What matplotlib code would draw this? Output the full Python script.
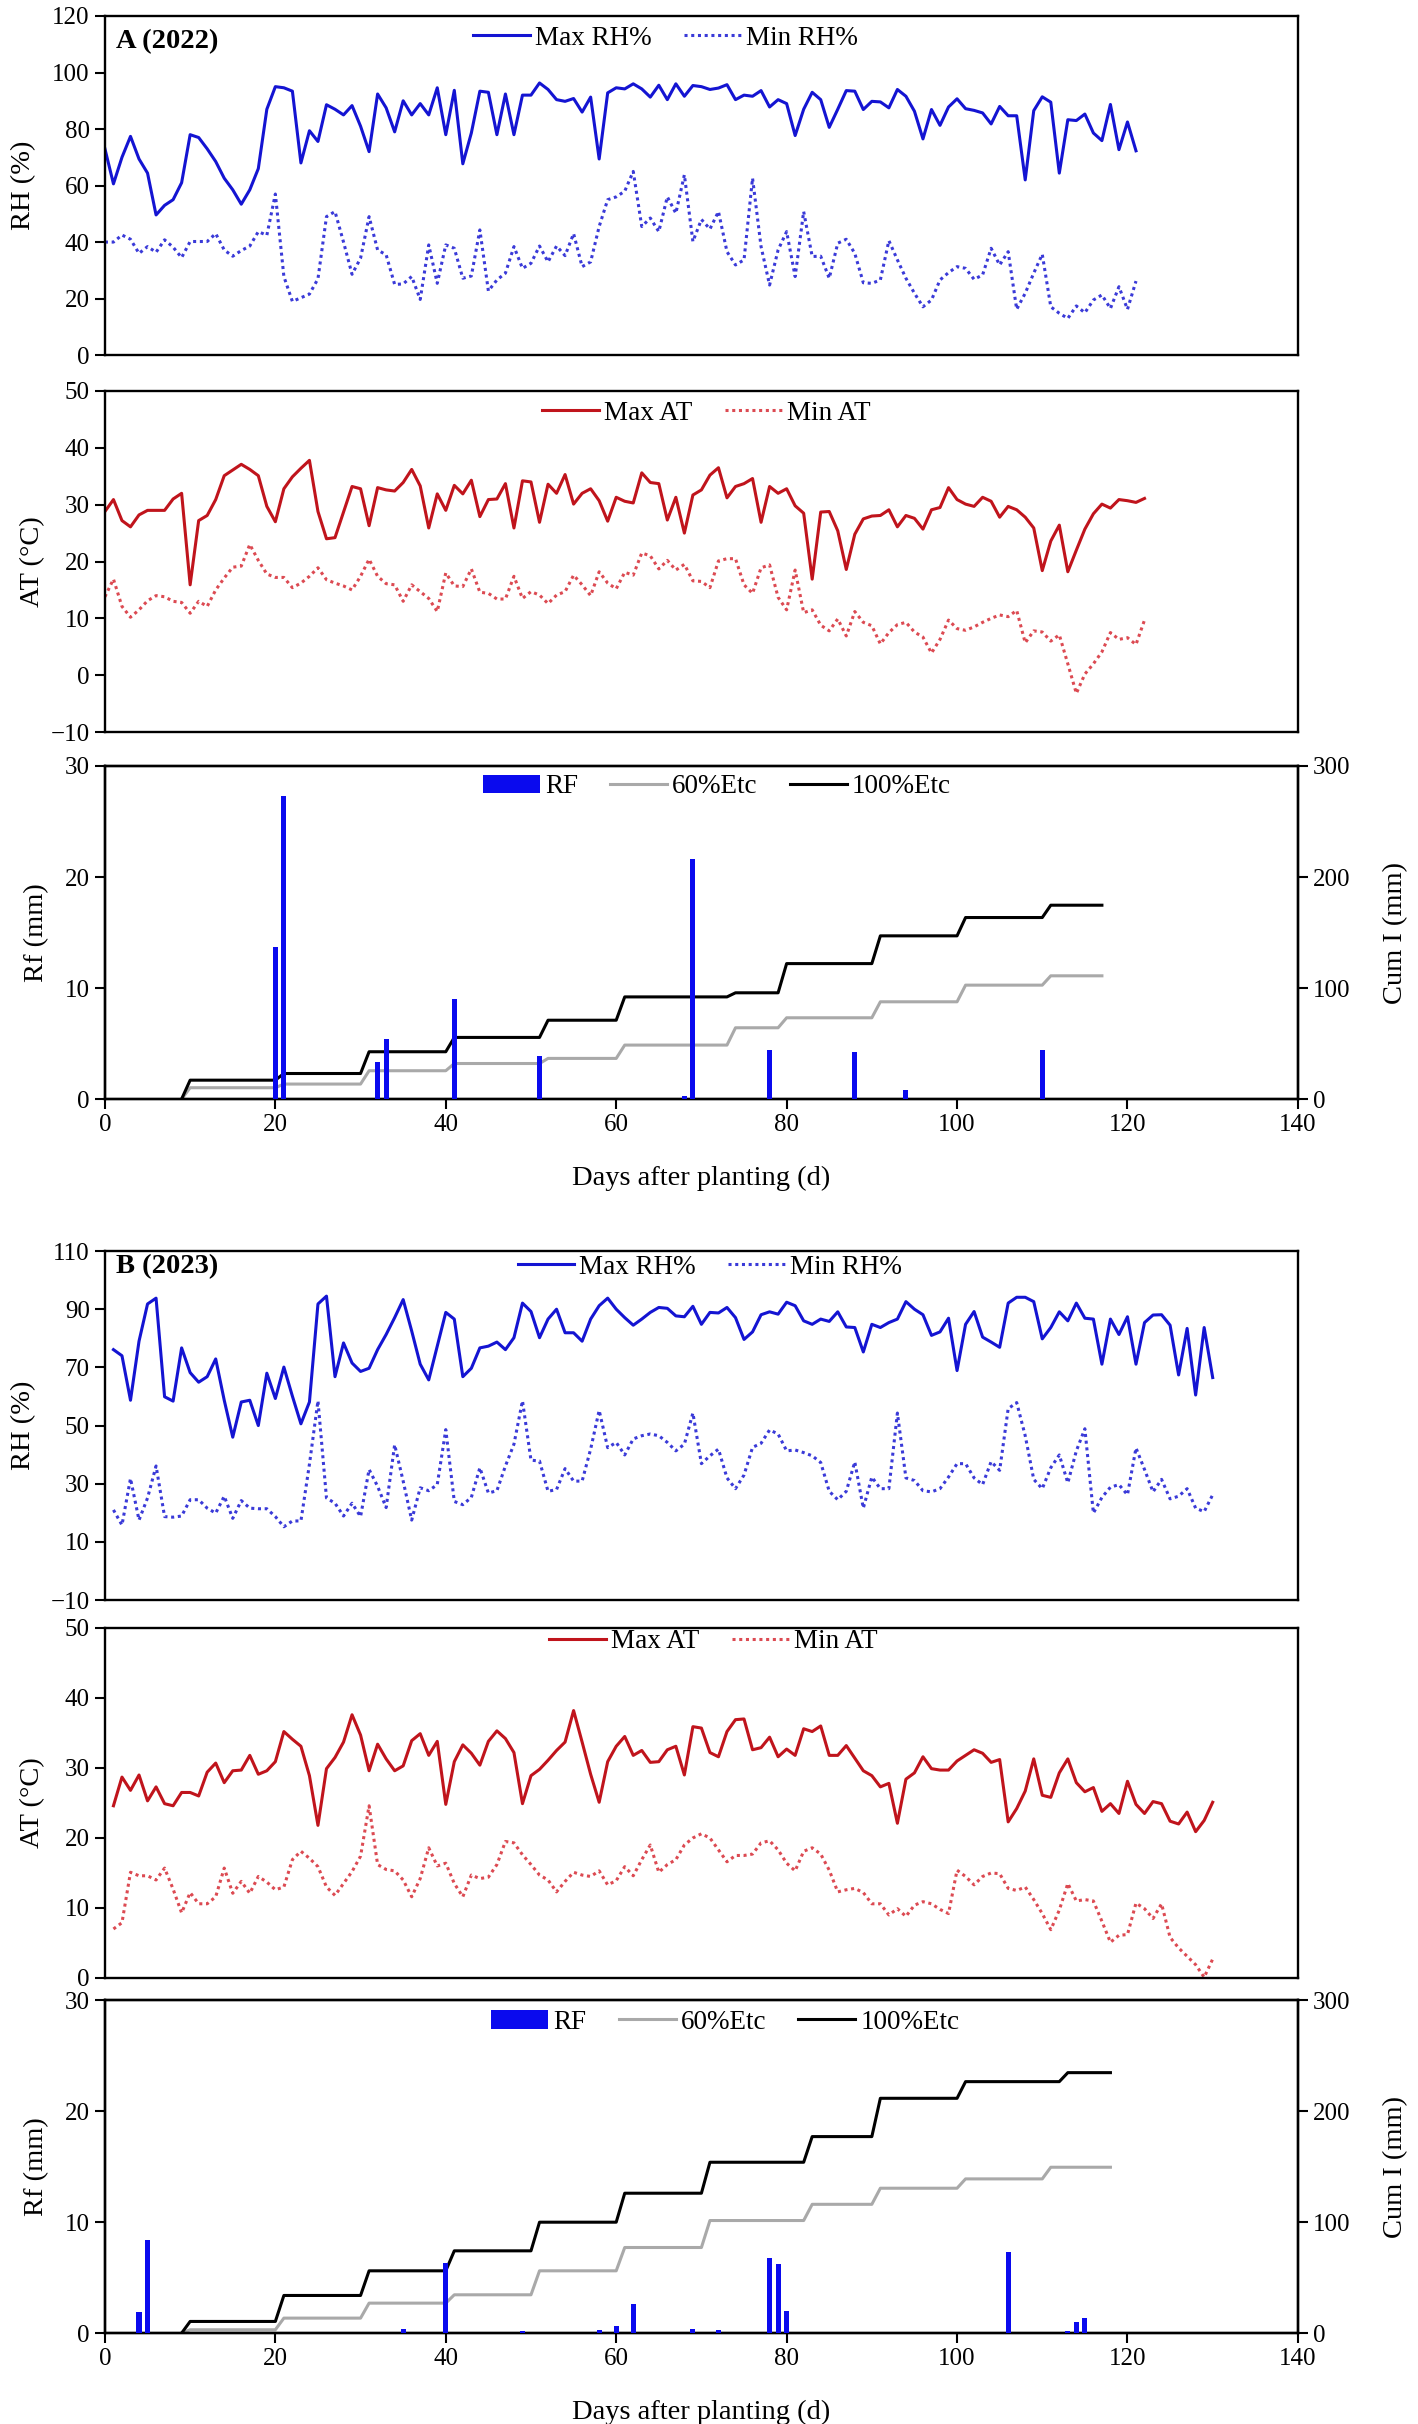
import numpy as np
import matplotlib
matplotlib.use('Agg')
import matplotlib.pyplot as plt

plt.rcParams['font.family'] = ['Liberation Serif', 'DejaVu Serif']

# ---------------- 2022 (A) ----------------
max_rh_A = [73, 60.6, 70, 77.4, 69.4, 64.4, 49.6, 53, 55, 61,
            78, 77, 73, 68.5, 62.6, 58.5, 53.4, 58.5, 66, 87,
            95, 94.6, 93.4, 68, 79.4, 75.6, 88.6, 87, 85, 88.3,
            81, 72, 92.4, 87.5, 79, 90, 85, 89, 85, 94.6,
            78, 93.7, 67.7, 78.6, 93.4, 93, 78, 92.4, 78, 92,
            92, 96.3, 94, 90.4, 89.8, 90.8, 86, 91.3, 69.4, 92.8,
            94.6, 94.2, 96, 94.2, 91.3, 95.5, 90.4, 96, 91.6, 95.4,
            95, 94, 94.5, 95.7, 90.4, 92, 91.6, 93.6, 87.8, 90.4,
            89, 77.7, 87, 93, 90.4, 80.6, 87, 93.6, 93.4, 86.9,
            89.8, 89.6, 87.5, 94, 91.6, 86.3, 76.5, 86.9, 81.3, 87.8,
            90.7, 87.2, 86.6, 85.7, 81.8, 88, 84.7, 84.7, 62, 86.5,
            91.4, 89.5, 64.4, 83.3, 83, 85.3, 78.6, 75.9, 88.7, 72.7,
            82.5, 72.3]
min_rh_A = [40, 40, 42.5, 41, 36, 38.4, 36.4, 40.8, 38.2, 34.5,
            40.2, 40.2, 40.2, 43, 37.2, 35, 37, 38.6, 43.7, 42.4,
            57, 27.8, 19, 20.3, 21.6, 27, 49, 50.8, 40, 28.6,
            34.3, 49, 37.2, 35.5, 25, 25.2, 27.8, 19.7, 39, 25.4,
            39, 37.8, 27.2, 28, 44.3, 22.7, 26.6, 29, 38.4, 30.7,
            32.5, 38.6, 33, 38.6, 35.2, 43, 31.3, 33, 45.5, 55,
            56, 58, 65, 45.5, 48.5, 43.7, 56, 50.2, 63.8, 40.2,
            48, 44.6, 50.8, 36.6, 31.9, 33.7, 62.6, 38.4, 24.8, 37.2,
            43.7, 27.8, 50.8, 34.9, 35, 27.2, 39.6, 41, 36, 25.6,
            25.4, 26.6, 40.5, 33.7, 27.2, 21.9, 17.1, 19.5, 26.6, 29.2,
            31.3, 30.7, 26.8, 28.4, 37.8, 31.9, 36.6, 16.2, 21.9, 29,
            35.7, 17.1, 14.8, 13, 17.4, 15, 19.5, 21.3, 16.5, 24.2,
            16.2, 26.2]
max_at_A = [28.8, 30.9, 27.2, 26.1, 28.2, 29, 29, 29, 31, 32,
            15.9, 27.2, 28.1, 30.9, 35.1, 36.1, 37.1, 36.2, 35.1, 29.7,
            27, 32.8, 34.9, 36.4, 37.8, 28.8, 24, 24.2, 28.7, 33.2,
            32.8, 26.3, 33, 32.6, 32.4, 33.9, 36.2, 33.3, 25.9, 31.9,
            29, 33.4, 31.9, 34.3, 27.9, 30.9, 31, 33.7, 25.9, 34.2,
            34, 26.9, 33.6, 32, 35.3, 30.1, 32, 32.8, 30.7, 27.1,
            31.3, 30.6, 30.3, 35.6, 33.9, 33.7, 27.3, 31.3, 25, 31.7,
            32.6, 35.2, 36.5, 31.2, 33.2, 33.7, 34.6, 26.9, 33.2, 32,
            32.8, 29.8, 28.5, 16.9, 28.7, 28.8, 25.4, 18.6, 24.8, 27.5,
            28, 28.1, 29.1, 26.1, 28.1, 27.6, 25.7, 29.1, 29.5, 33,
            30.9, 30.1, 29.7, 31.3, 30.6, 27.8, 29.7, 29.1, 27.8, 25.9,
            18.4, 23.6, 26.4, 18.2, 22, 25.7, 28.4, 30.1, 29.4, 30.9,
            30.7, 30.4, 31.1]
min_at_A = [13.8, 16.9, 12.1, 10.2, 11.5, 13.1, 14, 13.8, 13, 12.8,
            10.9, 13, 12.1, 15, 17.1, 19, 19.2, 23, 20.2, 17.8,
            17.2, 17.2, 15.4, 16.2, 17.4, 18.9, 16.8, 16.2, 15.7, 15,
            17.4, 20.4, 17.4, 16.1, 15.9, 13, 15.9, 14.7, 13.5, 11.2,
            18, 15.7, 15.6, 18.7, 14.6, 14.4, 13.4, 13.4, 17.4, 13.5,
            14.7, 14.1, 12.6, 14.1, 14.7, 17.6, 15.9, 14, 18.2, 16.2,
            15.2, 18.1, 17.6, 21.5, 21, 18.7, 20.2, 18.5, 19.5, 16.6,
            16.5, 15.4, 20.1, 20.5, 20.5, 15.9, 14.4, 18.9, 19.4, 13.7,
            11.5, 18.5, 11, 11.5, 8.8, 7.8, 9.9, 6.9, 11.2, 9.3,
            8.7, 5.5, 7.5, 8.9, 9.3, 7.6, 6.7, 3.9, 6.3, 9.7,
            8.2, 7.9, 8.5, 9.3, 10, 10.6, 10.3, 11.4, 5.7, 7.8,
            7.6, 6, 7.1, 2, -3.2, 0.2, 2, 4.1, 7.5, 6.3,
            6.6, 5.4, 9.7]
rf_days_A = [20, 21, 32, 33, 41, 51, 68, 69, 78, 88, 94, 110]
rf_A = [13.7, 27.3, 3.3, 5.4, 9.0, 3.9, 0.3, 21.6, 4.4, 4.2, 0.8, 4.4]
etc_days_A = [9, 10, 20, 21, 30, 31, 40, 41, 51, 52, 60, 61, 73, 74, 79, 80,
              90, 91, 100, 101, 110, 111, 117]
etc100_A = [0, 17, 17, 23, 23, 42.6, 42.6, 55.5, 55.5, 71, 71, 92, 92, 95.7,
            95.7, 122, 122, 147, 147, 163.5, 163.5, 174.6, 174.6]
etc60_A = [0, 10.2, 10.2, 13.5, 13.5, 25.5, 25.5, 32, 32, 36.6, 36.6, 48.6,
           48.6, 64.2, 64.2, 73.2, 73.2, 87.6, 87.6, 102.6, 102.6, 111, 111]

# ---------------- 2023 (B) ----------------
max_rh_B = [76.1, 74, 58.7, 79, 91.8, 93.8, 59.9, 58.4, 76.7, 68.2,
            64.9, 66.8, 72.9, 58.7, 46, 58.1, 58.7, 50, 68, 59.3,
            70.1, 60.1, 50.6, 58.1, 91.8, 94.5, 66.8, 78.4, 71.5, 68.6,
            69.7, 76.1, 81.3, 87.1, 93.3, 82.5, 71.1, 65.7, 77.3, 88.9,
            86.6, 66.8, 69.7, 76.7, 77.3, 78.7, 76.1, 80.2, 92.1, 89.2,
            80.2, 86.6, 90, 81.9, 81.9, 79, 86.6, 91.2, 93.8, 90,
            87.1, 84.5, 86.6, 88.9, 90.6, 90.3, 87.7, 87.4, 91, 84.8,
            88.9, 88.7, 90.6, 87.1, 79.6, 82.2, 88.1, 89.1, 88.3, 92.4,
            91.2, 86, 84.8, 86.6, 85.8, 89.1, 83.9, 83.7, 75.3, 84.8,
            83.7, 85.4, 86.6, 92.6, 90, 88.1, 81, 82.2, 86.9, 68.9,
            84.8, 89.2, 80.4, 78.7, 76.9, 92.1, 94.1, 94.1, 92.6, 79.8,
            83.7, 89.1, 86, 92.1, 86.9, 86.6, 71.1, 86.6, 81.3, 87.4,
            71.1, 85.4, 88, 88.1, 84.5, 67.4, 83.4, 60.5, 83.7, 66.5]
min_rh_B = [21, 15.8, 31.8, 17.5, 25.1, 36.1, 18.7, 18.5, 18.9, 24.5,
            24.5, 21.6, 19.9, 25.7, 18.1, 24.2, 21.6, 21.4, 21.4, 18.7,
            15.2, 17.2, 17.2, 36.7, 58.5, 25.1, 23.3, 18.9, 23.3, 18.7,
            34.9, 29.1, 21.8, 43.4, 30.9, 17.5, 28.6, 27.6, 29.7, 48.6,
            23.9, 22.8, 25.3, 35.5, 26.8, 27.6, 36.1, 43.6, 58.5, 38.1,
            37.8, 27.4, 28, 35.2, 30.9, 30.9, 41.9, 55.2, 42.4, 44.2,
            39.9, 45.4, 46.5, 47.1, 46.5, 44.2, 41.3, 43.6, 54.3, 36.9,
            39.6, 41.9, 32, 28.3, 33, 42.5, 43.9, 48.5, 47.1, 41.3,
            41.6, 40.7, 39.6, 37.3, 27.4, 24.5, 27.4, 37.5, 21.6, 32.3,
            28.3, 28.3, 54.3, 32, 31.1, 27.6, 27.2, 28.3, 32.3, 36.9,
            36.9, 32, 29.7, 37.6, 34.6, 55.8, 57.9, 46.5, 31.5, 28.3,
            35.5, 39.9, 30.3, 41.3, 48.9, 19.9, 25.3, 28.8, 29.7, 26.2,
            42.3, 34.9, 27.2, 31.5, 24.8, 25.7, 28.3, 21.6, 20.4, 26.2]
max_at_B = [24.6, 28.7, 26.8, 29, 25.3, 27.3, 24.9, 24.6, 26.5, 26.5,
            26, 29.4, 30.7, 27.9, 29.6, 29.7, 31.8, 29.1, 29.6, 30.9,
            35.2, 34.1, 33.1, 28.9, 21.8, 29.9, 31.5, 33.7, 37.6, 34.7,
            29.6, 33.4, 31.3, 29.6, 30.3, 33.9, 34.9, 31.8, 33.8, 24.8,
            30.9, 33.3, 32.1, 30.4, 33.8, 35.3, 34.2, 32.2, 24.9, 28.9,
            29.8, 31.1, 32.5, 33.7, 38.2, 33.7, 29.1, 25.1, 30.9, 33.1,
            34.5, 31.8, 32.5, 30.8, 30.9, 32.6, 33.1, 29, 35.9, 35.7,
            32.2, 31.6, 35.2, 36.9, 37, 32.6, 32.9, 34.4, 31.6, 32.7,
            31.8, 35.6, 35.2, 36, 31.8, 31.8, 33.2, 31.4, 29.6, 28.9,
            27.3, 27.8, 22.1, 28.4, 29.3, 31.6, 29.9, 29.7, 29.7, 31,
            31.8, 32.6, 32.1, 30.8, 31.2, 22.3, 24.2, 26.7, 31.3, 26.1,
            25.8, 29.3, 31.3, 27.9, 26.6, 27.2, 23.8, 24.9, 23.5, 28.1,
            24.8, 23.5, 25.2, 24.9, 22.4, 22, 23.7, 20.9, 22.5, 25.1]
min_at_B = [7, 7.9, 15.1, 14.6, 14.6, 14, 15.7, 12.7, 9.3, 12.2,
            10.6, 10.6, 11.6, 15.7, 12.1, 13.8, 12.1, 14.5, 13.7, 12.6,
            13, 16.9, 18.1, 17.1, 15.9, 13, 11.8, 13.5, 15.2, 17.4,
            24.6, 16.2, 15.5, 15.3, 14, 11.6, 14.2, 18.6, 16, 16.4,
            13.5, 11.6, 14.7, 14.2, 14.4, 16.2, 19.5, 19.3, 17.6, 16.2,
            14.7, 14, 12.3, 13.8, 15.1, 14.7, 14.5, 15.3, 13.3, 13.9,
            15.9, 14.6, 16.9, 19, 15.1, 16.2, 16.9, 19, 20, 20.6,
            20, 18.3, 16.6, 17.5, 17.5, 17.7, 19.3, 19.6, 18.3, 16.4,
            15.3, 18.1, 18.6, 17.7, 15.4, 12.3, 12.6, 12.8, 12.2, 10.6,
            10.6, 9, 9.9, 8.8, 10.4, 10.9, 10.6, 9.8, 9.2, 15.4,
            14.5, 13.3, 14.5, 15, 14.9, 12.8, 12.5, 13, 11.2, 9.2,
            6.9, 9.7, 13.5, 11, 11.2, 11, 8.1, 5.1, 6.1, 6.2,
            10.7, 9.9, 8.5, 10.6, 5.8, 4.3, 3.1, 1.9, 0.1, 2.7]
rf_days_B = [4, 5, 35, 40, 49, 58, 60, 62, 69, 72, 78, 79, 80, 106, 113, 114, 115]
rf_B = [1.9, 8.4, 0.35, 6.3, 0.2, 0.3, 0.6, 2.6, 0.4, 0.3, 6.75, 6.2, 2.0,
        7.3, 0.15, 1.0, 1.35]
etc_days_B = [9, 10, 20, 21, 30, 31, 40, 41, 50, 51, 60, 61, 70, 71, 82, 83,
              90, 91, 100, 101, 112, 113, 118]
etc100_B = [0, 10.5, 10.5, 33.9, 33.9, 56.1, 56.1, 74.1, 74.1, 99.9, 99.9,
            126, 126, 153.9, 153.9, 177, 177, 211.5, 211.5, 226.5, 226.5,
            234.6, 234.6]
etc60_days_B = [9, 10, 20, 21, 30, 31, 40, 41, 50, 51, 60, 61, 70, 71, 82, 83,
                90, 91, 100, 101, 110, 111, 118]
etc60_B = [0, 3, 3, 13.5, 13.5, 27, 27, 34.5, 34.5, 56.1, 56.1, 77.1, 77.1,
           101.4, 101.4, 116, 116, 130.5, 130.5, 138.9, 138.9, 149.4, 149.4]

days_A_rh = np.arange(len(max_rh_A))
days_A_at = np.arange(len(max_at_A))
days_B = np.arange(1, len(max_rh_B) + 1)

# ---------------- styling ----------------
C_MAXRH = '#1414d2'
C_MINRH = '#3a3ad8'
C_MAXAT = '#c0141c'
C_MINAT = '#dc4a52'
C_RF = '#0a0aee'
C_60 = '#a9a9a9'
TICK_FS = 18
LAB_FS = 20.5
LEG_FS = 19.5
LW = 2.2

fig = plt.figure(figsize=(14.18, 24.24), dpi=100)
L, W = 0.074, 0.8413
boxes = {
    'A1': (0.8535, 0.1399), 'A2': (0.6980, 0.1407), 'A3': (0.5466, 0.1374),
    'B1': (0.3399, 0.1440), 'B2': (0.1840, 0.1444), 'B3': (0.0375, 0.1374),
}


def base_axes(key, xaxis=False):
    b, h = boxes[key]
    ax = fig.add_axes([L, b, W, h])
    ax.set_xlim(0, 140)
    for s in ax.spines.values():
        s.set_linewidth(1.7)
    ax.tick_params(axis='y', direction='out', length=7, width=1.5,
                   labelsize=TICK_FS, pad=4)
    if xaxis:
        ax.set_xticks(range(0, 141, 20))
        ax.tick_params(axis='x', direction='out', length=7, width=1.5,
                       labelsize=TICK_FS, pad=4)
    else:
        ax.tick_params(axis='x', bottom=False, labelbottom=False)
    return ax


def legend(ax, handles, labels, cx, cy):
    ax.legend(handles, labels, loc='center', bbox_to_anchor=(cx, cy), ncol=len(handles),
              frameon=False, fontsize=LEG_FS, handlelength=2.1, handletextpad=0.18,
              columnspacing=1.2, borderaxespad=0, borderpad=0)


def rh_panel(key, days, mx, mn, ylim, yticks, label, lpos, lab_y):
    ax = base_axes(key)
    l1, = ax.plot(days, mx, color=C_MAXRH, lw=LW)
    l2, = ax.plot(days, mn, color=C_MINRH, lw=LW, ls=(0, (1, 1.2)))
    ax.set_ylim(*ylim)
    ax.set_yticks(yticks)
    ax.set_ylabel('RH (%)', fontsize=LAB_FS)
    ax.yaxis.set_label_coords(-0.058, 0.5)
    legend(ax, [l1, l2], ['Max RH%', 'Min RH%'], *lpos)
    ax.text(0.009, lab_y, label, transform=ax.transAxes, fontsize=20.5,
            fontweight='bold', va='center', ha='left')
    return ax


def at_panel(key, days, mx, mn, ylim, yticks, lpos):
    ax = base_axes(key)
    l1, = ax.plot(days, mx, color=C_MAXAT, lw=LW)
    l2, = ax.plot(days, mn, color=C_MINAT, lw=LW, ls=(0, (1, 1.2)))
    ax.set_ylim(*ylim)
    ax.set_yticks(yticks)
    ax.set_ylabel('AT (°C)', fontsize=LAB_FS)
    ax.yaxis.set_label_coords(-0.05, 0.5)
    legend(ax, [l1, l2], ['Max AT', 'Min AT'], *lpos)
    return ax


def rf_panel(key, rdays, rvals, d100, v100, d60, v60, lpos):
    ax = base_axes(key, xaxis=True)
    ax2 = ax.twinx()
    ax2.set_xlim(0, 140)
    bars = ax.bar(rdays, rvals, width=0.6, color=C_RF, zorder=3)
    l60, = ax2.plot(d60, v60, color=C_60, lw=LW)
    l100, = ax2.plot(d100, v100, color='black', lw=LW)
    ax.set_zorder(ax2.get_zorder() + 1)
    ax.patch.set_visible(False)
    ax.set_ylim(0, 30)
    ax.set_yticks([0, 10, 20, 30])
    ax2.set_ylim(0, 300)
    ax2.set_yticks([0, 100, 200, 300])
    for s in ax2.spines.values():
        s.set_linewidth(1.7)
    ax2.tick_params(axis='y', direction='out', length=7, width=1.5,
                    labelsize=TICK_FS, pad=4)
    ax.set_ylabel('Rf (mm)', fontsize=LAB_FS)
    ax.yaxis.set_label_coords(-0.047, 0.5)
    ax2.set_ylabel('Cum I (mm)', fontsize=LAB_FS)
    ax2.yaxis.set_label_coords(1.071, 0.5)
    ax.set_xlabel('Days after planting (d)', fontsize=LAB_FS)
    ax.xaxis.set_label_coords(0.5, -0.2)
    legend(ax, [bars, l60, l100], ['RF', '60%Etc', '100%Etc'], *lpos)
    return ax


rh_panel('A1', days_A_rh, max_rh_A, min_rh_A, (0, 120), range(0, 121, 20),
         'A (2022)', (0.47, 0.935), 0.925)
at_panel('A2', days_A_at, max_at_A, min_at_A, (-10, 50), range(-10, 51, 10),
         (0.504, 0.935))
rf_panel('A3', rf_days_A, rf_A, etc_days_A, etc100_A, etc_days_A, etc60_A,
         (0.513, 0.937))

rh_panel('B1', days_B, max_rh_B, min_rh_B, (-10, 110), range(-10, 111, 20),
         'B (2023)', (0.507, 0.954), 0.954)
at_panel('B2', days_B, max_at_B, min_at_B, (0, 50), range(0, 51, 10),
         (0.51, 0.96))
rf_panel('B3', rf_days_B, rf_B, etc_days_B, etc100_B, etc60_days_B, etc60_B,
         (0.52, 0.934))

fig.savefig('out.png', dpi=100)
